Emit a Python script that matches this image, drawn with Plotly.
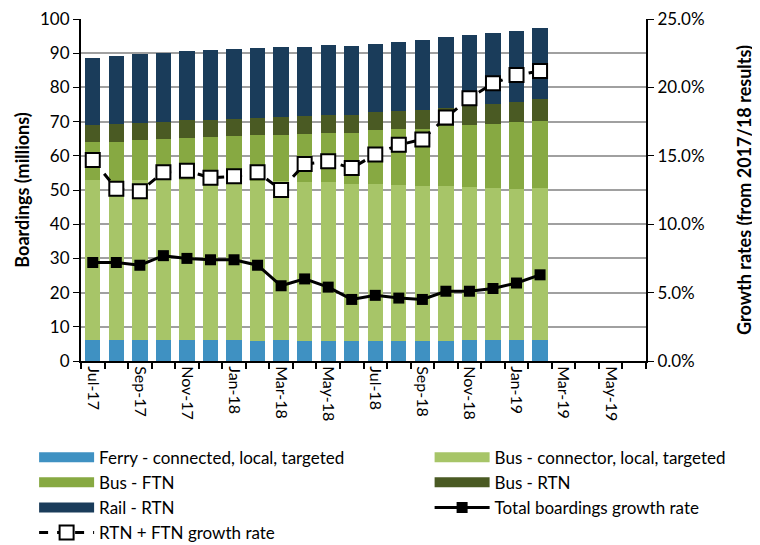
import plotly.graph_objects as go

months = ["Jul-17", "Aug-17", "Sep-17", "Oct-17", "Nov-17", "Dec-17", "Jan-18", "Feb-18",
          "Mar-18", "Apr-18", "May-18", "Jun-18", "Jul-18", "Aug-18", "Sep-18", "Oct-18",
          "Nov-18", "Dec-18", "Jan-19", "Feb-19", "Mar-19", "Apr-19", "May-19", "Jun-19"]

# Stacked components (millions of boardings), Jul-17 .. Feb-19
ferry = [6.1, 6.1, 6.1, 6.1, 6.1, 6.1, 6.1, 5.9, 6.1, 5.9, 5.9, 5.9,
         5.9, 5.9, 5.9, 5.9, 6.0, 6.0, 6.0, 6.0]
bus_connector = [46.7, 46.5, 46.9, 46.7, 46.7, 46.4, 46.7, 46.7, 46.4, 46.4, 46.3, 46.0,
                 45.8, 45.5, 45.3, 45.2, 44.8, 44.5, 44.4, 44.6]
bus_ftn = [11.1, 11.5, 11.6, 12.0, 12.4, 12.9, 12.9, 13.4, 13.7, 14.0, 14.6, 14.9,
           15.7, 16.3, 16.6, 17.6, 18.2, 18.7, 19.4, 19.6]
bus_rtn = [5.1, 5.2, 5.1, 5.2, 5.3, 5.2, 5.2, 5.2, 5.1, 5.3, 5.2, 5.2,
           5.3, 5.4, 5.6, 5.4, 5.8, 6.0, 6.0, 6.3]
rail_rtn = [19.7, 20.0, 20.1, 20.2, 20.1, 20.3, 20.3, 20.3, 20.4, 20.2, 20.3, 20.2,
            20.1, 20.3, 20.4, 20.6, 20.6, 20.6, 20.6, 20.8]

# Growth rates (%), right axis
total_growth = [7.2, 7.2, 7.0, 7.7, 7.5, 7.4, 7.4, 7.0, 5.5, 6.0, 5.4, 4.5,
                4.8, 4.6, 4.5, 5.1, 5.1, 5.3, 5.7, 6.3]
rtn_ftn_growth = [14.7, 12.6, 12.4, 13.8, 13.9, 13.4, 13.5, 13.8, 12.5, 14.4, 14.6, 14.1,
                  15.1, 15.8, 16.2, 17.8, 19.2, 20.3, 20.9, 21.2]

tick_labels = months[::2]

n = len(ferry)
xi = list(range(n))
FONT = "Lato"

fig = go.Figure()
bars = [
    ("Ferry - connected, local, targeted", ferry, "#3F91C2", "legend"),
    ("Bus - connector, local, targeted", bus_connector, "#A7C568", "legend2"),
    ("Bus - FTN", bus_ftn, "#87A942", "legend"),
    ("Bus - RTN", bus_rtn, "#4A5A23", "legend2"),
    ("Rail - RTN", rail_rtn, "#1A3C5A", "legend"),
]
for name, vals, col, leg in bars:
    fig.add_trace(go.Bar(x=xi, y=vals, name=name, showlegend=False, legendgroup=name,
                         marker=dict(color=col, line=dict(width=0))))

# legend-only proxies so the legend shows wide colour swatches like the original
for name, vals, col, leg in bars:
    fig.add_trace(go.Scatter(x=[None], y=[None], name=name, legend=leg, legendgroup=name,
                             mode="lines", line=dict(color=col, width=13),
                             hoverinfo="skip"))

fig.add_trace(go.Scatter(
    x=xi, y=total_growth, name="Total boardings growth rate", yaxis="y2", legend="legend2",
    mode="lines+markers", line=dict(color="black", width=3),
    marker=dict(symbol="square", size=11, color="black")))
fig.add_trace(go.Scatter(
    x=xi, y=rtn_ftn_growth, name="RTN + FTN growth rate", yaxis="y2", legend="legend",
    mode="lines+markers", line=dict(color="black", width=3, dash="dash"),
    marker=dict(symbol="square", size=14, color="white", line=dict(color="black", width=2))))

leg_common = dict(orientation="v", yanchor="top", xanchor="left", itemwidth=55,
                  traceorder="normal", font=dict(family=FONT, size=17, color="black"),
                  bgcolor="rgba(0,0,0,0)", tracegroupgap=0)

fig.update_layout(
    width=752, height=537,
    margin=dict(l=73, r=114, t=11, b=184, autoexpand=False),
    paper_bgcolor="white", plot_bgcolor="white",
    barmode="stack", bargap=0.35,
    font=dict(family=FONT, size=17, color="black"),
    showlegend=True,
    legend=dict(x=-0.083, y=-0.230, **leg_common),
    legend2=dict(x=0.617, y=-0.230, **leg_common),
    xaxis=dict(range=[-0.5, 23.5], tickmode="array", tickvals=list(range(0, 24, 2)),
               ticktext=tick_labels, tickangle=90, ticks="", showgrid=False,
               showline=True, linecolor="black", linewidth=2, zeroline=False,
               tickfont=dict(size=16), automargin=False, ticklabeloverflow="allow",
               minor=dict(ticks="outside", tick0=-0.5, dtick=1, ticklen=6,
                          tickcolor="black", tickwidth=1.5, showgrid=False)),
    yaxis=dict(range=[0, 100], dtick=10, showgrid=True, gridcolor="#A0A0A0", gridwidth=1.5,
               showline=True, linecolor="black", linewidth=2, ticks="outside",
               ticklen=6, tickcolor="black", zeroline=False, tickfont=dict(size=17),
               automargin=False, ticklabeloverflow="allow",
               title=dict(text="<b>Boardings (millions)</b>", font=dict(size=18), standoff=6)),
    yaxis2=dict(range=[0, 25], dtick=5, overlaying="y", side="right", showgrid=False,
                showline=True, linecolor="black", linewidth=2, ticks="outside",
                ticklen=6, tickcolor="black", zeroline=False, tickformat=".1f",
                ticksuffix="%", tickfont=dict(size=17), automargin=False,
                ticklabeloverflow="allow",
                title=dict(text="<b>Growth rates (from 2017/18 results)</b>",
                           font=dict(size=18), standoff=35)),
)

fig.write_html("out.html")
